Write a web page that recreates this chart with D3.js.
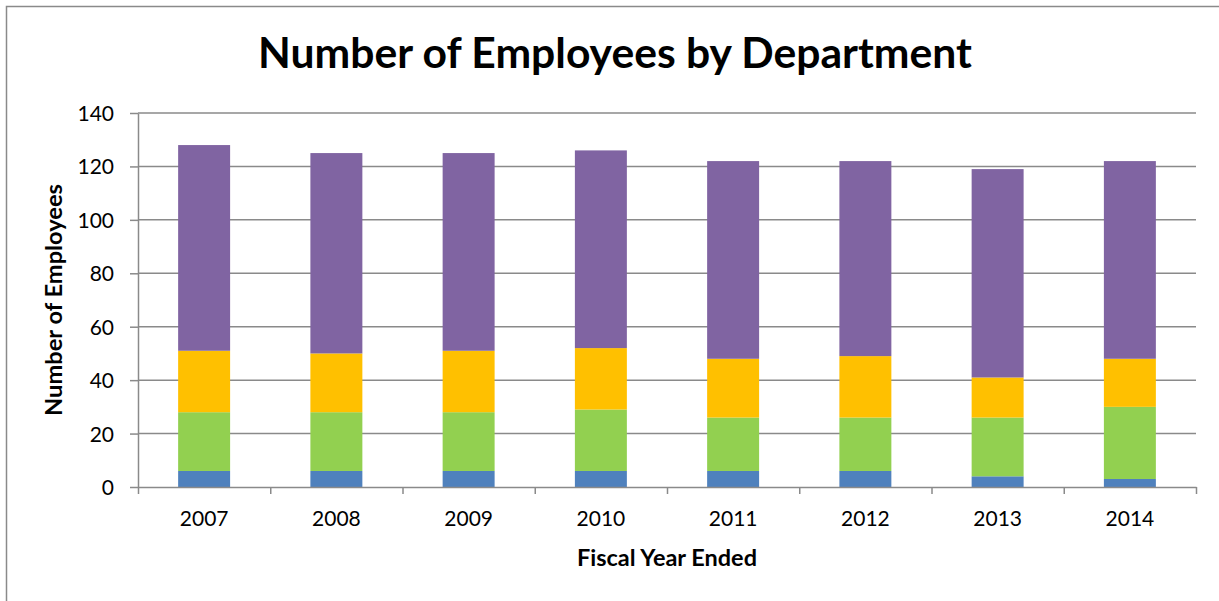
<!DOCTYPE html>
<html>
<head>
<meta charset="utf-8">
<script src="https://cdn.jsdelivr.net/npm/d3@7"></script>
<style>
  html, body { margin: 0; padding: 0; background: #fff; }
  svg { display: block; font-family: Lato, "Open Sans", sans-serif; }
</style>
</head>
<body>
<svg id="chart" width="1219" height="601"></svg>
<script>
// Fiscal years and headcount per department (stacked bottom to top)
const years = ["2007", "2008", "2009", "2010", "2011", "2012", "2013", "2014"];
const deptBlue   = [6, 6, 6, 6, 6, 6, 4, 3];
const deptGreen  = [22, 22, 22, 23, 20, 20, 22, 27];
const deptOrange = [23, 22, 23, 23, 22, 23, 15, 18];
const deptPurple = [77, 75, 74, 74, 74, 73, 78, 74];
const yTicks = [0, 20, 40, 60, 80, 100, 120, 140];

const seriesKeys = ["blue", "green", "orange", "purple"];
const seriesColors = { blue: "#4F81BD", green: "#92D050", orange: "#FFC000", purple: "#8064A2" };

const rows = years.map((y, i) => ({
  year: y, blue: deptBlue[i], green: deptGreen[i], orange: deptOrange[i], purple: deptPurple[i]
}));

const svg = d3.select("#chart");
const axisColor = "#8a8a8a";

// outer chart frame
svg.append("rect")
  .attr("x", 6.5).attr("y", 6.5)
  .attr("width", 1240).attr("height", 620)
  .attr("fill", "#fff").attr("stroke", axisColor).attr("stroke-width", 1.5);

const plot = { left: 138, right: 1196, top: 113, bottom: 487 };

const x = d3.scaleBand().domain(years)
  .range([plot.left, plot.right]).paddingInner(0.607).paddingOuter(0.3035);
const xEdges = d3.scaleLinear().domain([0, years.length]).range([plot.left, plot.right]);
const y = d3.scaleLinear().domain([0, 140]).range([plot.bottom, plot.top]);

// horizontal gridlines
svg.append("g").selectAll("line").data(yTicks.filter(t => t > 0)).join("line")
  .attr("x1", plot.left).attr("x2", plot.right)
  .attr("y1", d => y(d)).attr("y2", d => y(d))
  .attr("stroke", axisColor).attr("stroke-width", 1.5);

// stacked bars
const stacked = d3.stack().keys(seriesKeys)(rows);
svg.append("g").selectAll("g").data(stacked).join("g")
  .attr("fill", d => seriesColors[d.key])
  .selectAll("rect").data(d => d).join("rect")
  .attr("x", d => x(d.data.year))
  .attr("width", x.bandwidth())
  .attr("y", d => y(d[1]))
  .attr("height", d => y(d[0]) - y(d[1]));

// y axis
const yAxis = svg.append("g").attr("transform", `translate(${plot.left},0)`)
  .call(d3.axisLeft(y).tickValues(yTicks).tickSize(8).tickSizeOuter(0).tickPadding(16));
yAxis.select(".domain").attr("stroke", axisColor).attr("stroke-width", 1.5);
yAxis.selectAll(".tick line").attr("stroke", axisColor).attr("stroke-width", 1.5);
yAxis.selectAll(".tick text").attr("font-family", "Lato, sans-serif")
  .attr("font-size", 21).attr("fill", "#000").attr("dy", "0.36em");

// x axis: tick marks at category boundaries
const xAxisMarks = svg.append("g").attr("transform", `translate(0,${plot.bottom})`)
  .call(d3.axisBottom(xEdges).tickValues(d3.range(0, years.length + 1)).tickSize(7).tickSizeOuter(0).tickFormat(""));
xAxisMarks.select(".domain").attr("stroke", axisColor).attr("stroke-width", 1.5);
xAxisMarks.selectAll(".tick line").attr("stroke", axisColor).attr("stroke-width", 1.5);

// x axis: category labels
const xAxisLabels = svg.append("g").attr("transform", `translate(0,${plot.bottom})`)
  .call(d3.axisBottom(x).tickSize(0).tickPadding(24));
xAxisLabels.select(".domain").remove();
xAxisLabels.selectAll(".tick text").attr("font-family", "Lato, sans-serif")
  .attr("font-size", 21).attr("fill", "#000");

// fit a text element to a target width by adjusting its font size
function fitWidth(sel, target) {
  const fs = parseFloat(sel.attr("font-size"));
  const w = sel.node().getComputedTextLength();
  sel.attr("font-size", (fs * target / w).toFixed(2));
}

// chart title
const title = svg.append("text")
  .attr("x", 615).attr("y", 68).attr("text-anchor", "middle")
  .attr("font-family", "Lato, sans-serif").attr("font-weight", "bold")
  .attr("font-size", 38).attr("fill", "#000")
  .text("Number of Employees by Department");
fitWidth(title, 714);

// x axis title
const xTitle = svg.append("text")
  .attr("x", (plot.left + plot.right) / 2).attr("y", 566).attr("text-anchor", "middle")
  .attr("font-family", "Lato, sans-serif").attr("font-weight", "bold")
  .attr("font-size", 20).attr("fill", "#000")
  .text("Fiscal Year Ended");
fitWidth(xTitle, 180);

// y axis title
const yTitle = svg.append("text")
  .attr("transform", `translate(62,${(plot.top + plot.bottom) / 2}) rotate(-90)`)
  .attr("text-anchor", "middle")
  .attr("font-family", "Lato, sans-serif").attr("font-weight", "bold")
  .attr("font-size", 20).attr("fill", "#000")
  .text("Number of Employees");
fitWidth(yTitle, 232);
</script>
</body>
</html>
